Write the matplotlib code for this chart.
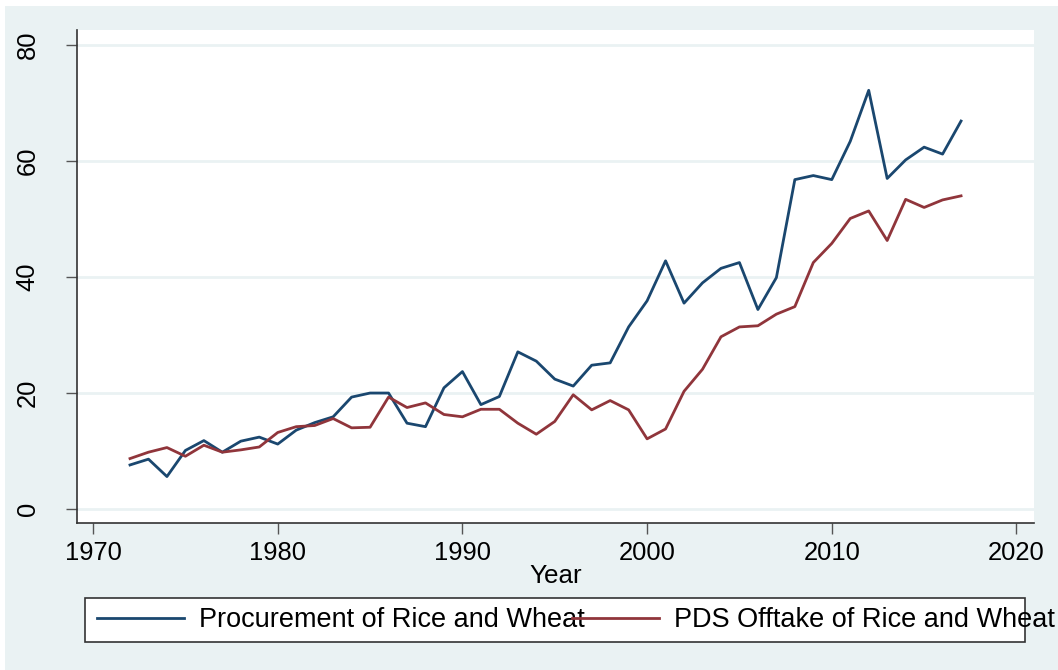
import numpy as np
import matplotlib
matplotlib.use('Agg')
import matplotlib.pyplot as plt
from matplotlib.patches import Rectangle

plt.rcParams['font.family'] = ['Liberation Sans', 'DejaVu Sans']

# Data
years = np.arange(1972, 2018)
procurement = [7.6, 8.6, 5.6, 10.1, 11.8, 9.8, 11.7, 12.4, 11.2, 13.6,
               14.9, 15.9, 19.3, 20.0, 20.0, 14.8, 14.2, 20.9, 23.7, 18.0,
               19.4, 27.1, 25.5, 22.4, 21.2, 24.8, 25.2, 31.4, 35.9, 42.8,
               35.5, 39.0, 41.5, 42.5, 34.4, 39.9, 56.8, 57.5, 56.8, 63.4,
               72.2, 57.0, 60.2, 62.4, 61.2, 66.9]
offtake = [8.7, 9.8, 10.6, 9.1, 11.0, 9.8, 10.2, 10.7, 13.2, 14.2,
           14.4, 15.6, 14.0, 14.1, 19.3, 17.5, 18.3, 16.3, 15.9, 17.2,
           17.2, 14.8, 12.9, 15.1, 19.7, 17.1, 18.7, 17.1, 12.1, 13.8,
           20.3, 24.1, 29.7, 31.4, 31.6, 33.6, 34.9, 42.5, 45.8, 50.1,
           51.4, 46.3, 53.4, 52.0, 53.3, 54.0]
labels = ['Procurement of Rice and Wheat', 'PDS Offtake of Rice and Wheat']
x_ticks = [1970, 1980, 1990, 2000, 2010, 2020]
y_ticks = [0, 20, 40, 60, 80]

bg = '#EAF2F3'
navy = '#1A476F'
maroon = '#90353B'

fig = plt.figure(figsize=(10.58, 6.7), dpi=100, facecolor='white')
# Stata-style graph region
fig.patches.append(Rectangle((5/1058, 0), 1, 1 - 6/670, transform=fig.transFigure,
                             facecolor=bg, edgecolor='none', zorder=-10))

ax = fig.add_axes([77/1058, 1 - 523/670, 957/1058, 493/670])
ax.set_facecolor('white')

ax.plot(years, procurement, color=navy, lw=2.0, label=labels[0])
ax.plot(years, offtake, color=maroon, lw=2.0, label=labels[1])

ax.set_xlim(1969.13, 2020.95)
ax.set_ylim(-2.41, 82.6)
ax.set_xticks(x_ticks)
ax.set_yticks(y_ticks)
ax.yaxis.grid(True, color=bg, lw=2)
ax.set_axisbelow(True)

for s in ['top', 'right']:
    ax.spines[s].set_visible(False)
for s in ['left', 'bottom']:
    ax.spines[s].set_color('#333333')
    ax.spines[s].set_linewidth(1.2)

ax.tick_params(axis='both', direction='out', length=8, width=1, color='#555555',
               labelsize=18.4)
ax.tick_params(axis='x', pad=5)
ax.tick_params(axis='y', pad=19)
plt.setp(ax.get_yticklabels(), rotation=90, va='center')
ax.set_xlabel('Year', fontsize=18.7, labelpad=-1)

# Legend box drawn separately so the long text can spill over, as in the original
fig.patches.append(Rectangle((85/1058, 1 - 642/670), 940/1058, 44/670,
                             transform=fig.transFigure, facecolor='white',
                             edgecolor='#333333', lw=1.2, zorder=1))
leg = fig.legend(loc='center left', bbox_to_anchor=(97/1058, 1 - 620/670), ncol=2,
                 frameon=False, fontsize=19.5, handlelength=3.2, handletextpad=0.55,
                 columnspacing=-0.45, borderpad=0, borderaxespad=0)
for line in leg.get_lines():
    line.set_linewidth(2.0)

fig.savefig('out.png', dpi=100, facecolor=fig.get_facecolor())
